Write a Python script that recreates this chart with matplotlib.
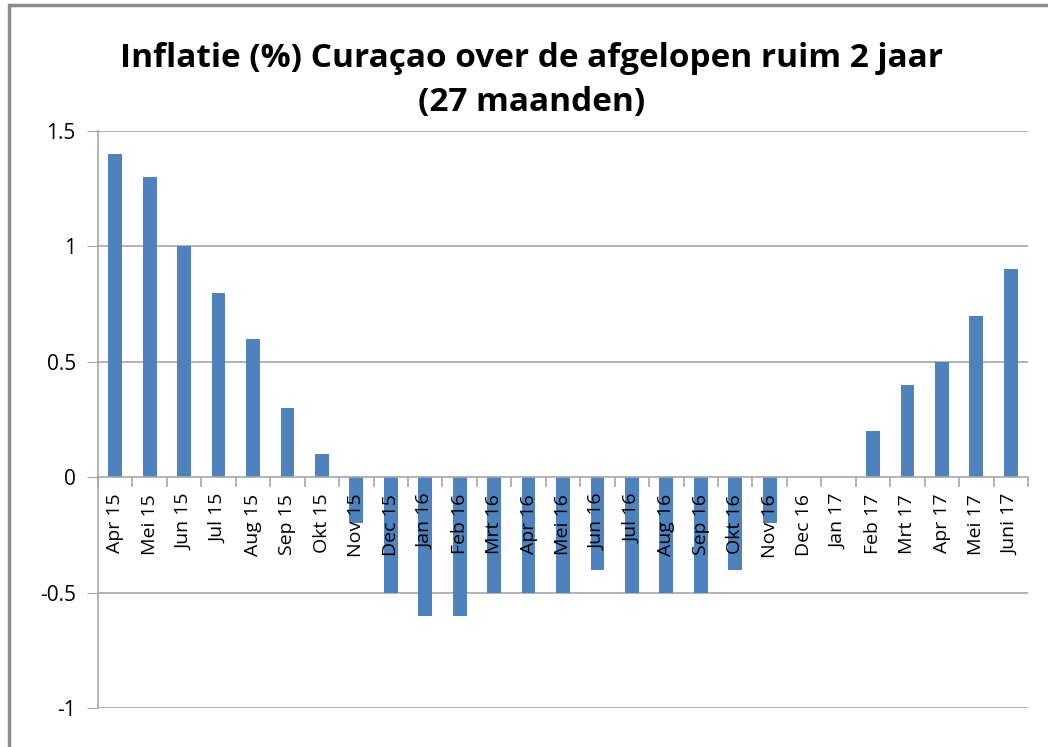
import numpy as np
import matplotlib.pyplot as plt
from matplotlib.patches import Rectangle

maanden = ['Apr 15', 'Mei 15', 'Jun 15', 'Jul 15', 'Aug 15', 'Sep 15', 'Okt 15',
           'Nov 15', 'Dec 15', 'Jan 16', 'Feb 16', 'Mrt 16', 'Apr 16', 'Mei 16',
           'Jun 16', 'Jul 16', 'Aug 16', 'Sep 16', 'Okt 16', 'Nov 16', 'Dec 16',
           'Jan 17', 'Feb 17', 'Mrt 17', 'Apr 17', 'Mei 17', 'Juni 17']
inflatie = [1.4, 1.3, 1.0, 0.8, 0.6, 0.3, 0.1,
            -0.2, -0.5, -0.6, -0.6, -0.5, -0.5, -0.5,
            -0.4, -0.5, -0.5, -0.5, -0.4, -0.2, 0.0,
            0.0, 0.2, 0.4, 0.5, 0.7, 0.9]
y_ticks = [-1, -0.5, 0, 0.5, 1, 1.5]
y_labels = ['-1', '-0.5', '0', '0.5', '1', '1.5']

plt.rcParams['font.family'] = ['Open Sans', 'DejaVu Sans']

fig = plt.figure(figsize=(10.48, 7.47), dpi=100)
ax = fig.add_axes([98 / 1048, 39 / 747, 930 / 1048, 577 / 747])

# kader rond de hele grafiek (loopt rechts/onder buiten beeld)
fig.patches.append(Rectangle((9 / 1048, -0.05), 1.2, 0.05 + 742 / 747,
                             transform=fig.transFigure, fill=False,
                             edgecolor='#8c8c8c', linewidth=2.5))

x = np.arange(len(maanden))
ax.bar(x, inflatie, width=0.4, color='#4f81bd', zorder=2)

ax.set_xlim(-0.5, len(maanden) - 0.5)
ax.set_ylim(-1, 1.5)
ax.set_yticks(y_ticks)
ax.set_yticklabels(y_labels)
ax.tick_params(axis='y', length=8, color='#a6a6a6', labelsize=15, pad=8)

for v in y_ticks:
    if v != 0:
        ax.axhline(v, color='#a6a6a6', linewidth=1.2, zorder=1)

for s in ['top', 'right']:
    ax.spines[s].set_visible(False)
ax.spines['left'].set_color('#a6a6a6')
ax.spines['left'].set_linewidth(1.2)
ax.spines['bottom'].set_position(('data', 0))
ax.spines['bottom'].set_color('#a6a6a6')
ax.spines['bottom'].set_linewidth(1.2)
ax.spines['bottom'].set_zorder(3)

ax.set_xticks(x)
ax.set_xticklabels(maanden, rotation=90, va='top', ha='center', fontsize=14)
ax.set_xticks(np.arange(len(maanden) + 1) - 0.5, minor=True)
ax.tick_params(axis='x', which='major', length=0, pad=12)
ax.tick_params(axis='x', which='minor', length=7, color='#a6a6a6', width=1.2)
ax.xaxis.set_zorder(5)

fig.text(0.5076, 0.892, 'Inflatie (%) Curaçao over de afgelopen ruim 2 jaar\n(27 maanden)',
         ha='center', va='center', fontsize=24, fontweight='bold', linespacing=1.42)

fig.savefig('out.png', dpi=100)
